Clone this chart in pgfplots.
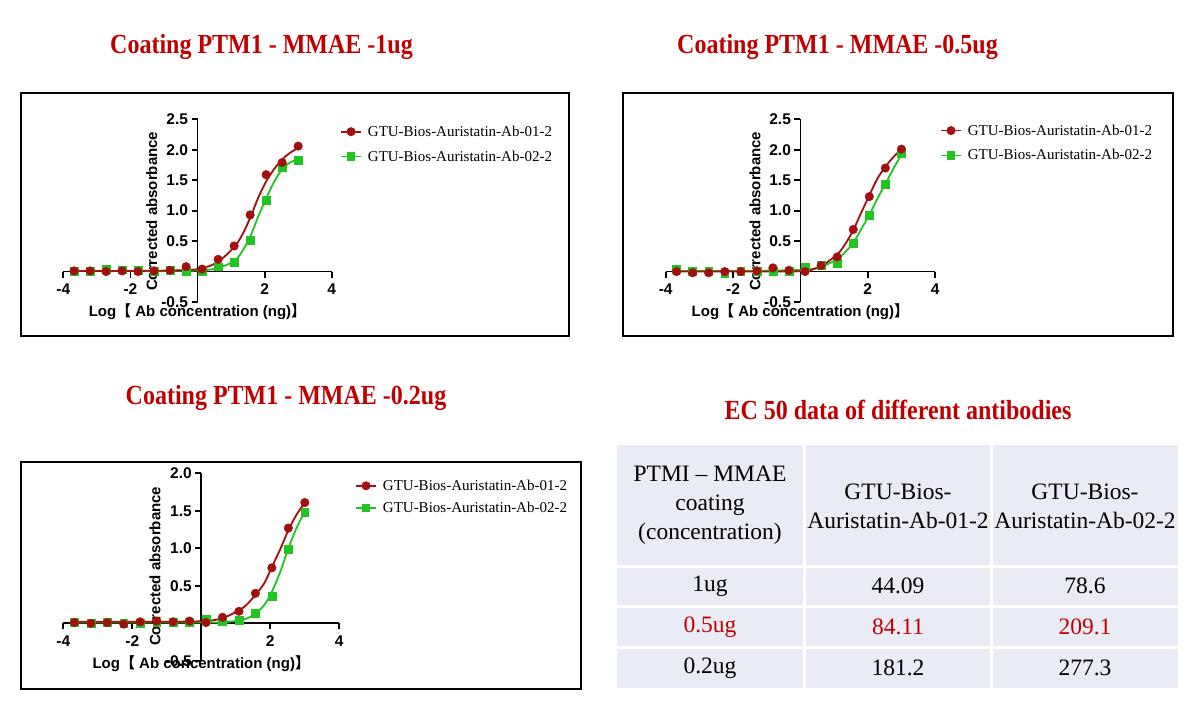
\documentclass[border=0pt]{standalone}
\usepackage{pgfplots}
\pgfplotsset{compat=1.18}
\usepackage{fontspec}
\setmainfont{Liberation Serif}
\newfontfamily\arial{Liberation Sans}
\newfontfamily\cjk{Noto Sans CJK SC}

\definecolor{gpred}{HTML}{A30F0F}
\definecolor{gpgreen}{HTML}{22C422}
\definecolor{titlered}{HTML}{C00000}
\definecolor{cellbg}{HTML}{E9EBF5}

\newcommand{\lblfont}{\arial\bfseries\fontsize{15}{15}\selectfont}
\newcommand{\xlab}{Log{\cjk 【} Ab concentration (ng){\cjk 】}}
\newcommand{\ttl}[1]{\scalebox{1}[1.15]{#1}}

\pgfplotsset{
  gp/.style={
    scale only axis, clip=false,
    axis lines=middle,
    axis line style={-, line width=1.8pt, black},
    xmin=-4, xmax=4,
    xtick={-4,-2,0,2,4}, xticklabels={-4,-2,,2,4},
    tick align=outside, major tick length=6pt,
    tick style={line width=1.8pt, black},
    ticklabel style={font=\arial\bfseries\fontsize{15.5}{15.5}\selectfont},
    xticklabel shift=3pt,
    legend style={draw=none, fill=none, anchor=west,
      font=\fontsize{15}{15}\selectfont, inner sep=0pt,
      nodes={inner sep=0pt}, row sep=13pt, column sep=6pt,
      cells={anchor=west}},
    legend image code/.code={\draw[mark repeat=2, mark phase=2, #1]
      plot coordinates {(0pt,0pt) (10pt,0pt) (20pt,0pt)};},
  },
  redcurve/.style={gpred, line width=1.8pt, smooth, no markers, forget plot},
  greencurve/.style={gpgreen, line width=1.8pt, smooth, no markers, forget plot},
  redpts/.style={only marks, mark=*, mark size=4.3pt, gpred, forget plot},
  greenpts/.style={only marks, mark=square*, mark size=3.9pt, gpgreen, forget plot},
}

\begin{document}
\begin{tikzpicture}
\path[use as bounding box, fill=white] (0pt,0pt) rectangle (1198pt,713pt);

\begin{scope}[x=1pt, y=-1pt, yshift=713pt]
  % frames
  \draw[line width=2pt] (21,93) rectangle (569,336);
  \draw[line width=2pt] (623,93) rectangle (1173,336);
  \draw[line width=2pt] (21,462) rectangle (581,689);
  % titles
  \begin{scope}[every node/.style={text=titlered, font=\bfseries\fontsize{24}{24}\selectfont}]
    \node at (261.5,47) {\ttl{Coating PTM1 - MMAE -1ug}};
    \node at (837.5,47) {\ttl{Coating PTM1 - MMAE -0.5ug}};
    \node at (286,398) {\ttl{Coating PTM1 - MMAE -0.2ug}};
    \node at (898,410) {\ttl{EC 50 data of different antibodies}};
  \end{scope}
  % EC50 table
  \foreach \xa/\xb in {617/803, 806/990, 993/1178}{
    \foreach \ya/\yb in {445/565, 568/605, 608/646, 649/688}{
      \fill[cellbg] (\xa,\ya) rectangle (\xb,\yb);
    }
  }
  \begin{scope}[every node/.style={font=\fontsize{23.5}{29}\selectfont, align=center}]
    \node at (710,505) {PTMI -- MMAE\\coating\\(concentration)};
    \node at (898,506) {GTU-Bios-\\Auristatin-Ab-01-2};
    \node at (1085,506) {GTU-Bios-\\Auristatin-Ab-02-2};
    \node at (710,586) {1ug};
    \node at (898,586) {44.09};
    \node at (1085,586) {78.6};
    \node[text=titlered] at (710,627) {0.5ug};
    \node[text=titlered] at (898,627) {84.11};
    \node[text=titlered] at (1085,627) {209.1};
    \node at (710,668) {0.2ug};
    \node at (898,668) {181.2};
    \node at (1085,668) {277.3};
  \end{scope}
\end{scope}

% ---- Chart 1: coating 1ug
\begin{axis}[gp, at={(63.3pt,411pt)}, anchor=south west,
  width=268.4pt, height=182.7pt, ymin=-0.5, ymax=2.5,
  ytick={-0.5,0,0.5,1,1.5,2,2.5}, yticklabels={-0.5,,0.5,1.0,1.5,2.0,2.5},
  legend style={at={(1.031,0.864)}}]
\addlegendimage{gpred, line width=1.7pt, mark=*, mark size=3.6pt}
\addlegendentry{GTU-Bios-Auristatin-Ab-01-2}
\addlegendimage{gpgreen, line width=1.7pt, mark=square*, mark size=3.3pt}
\addlegendentry{GTU-Bios-Auristatin-Ab-02-2}
\addplot[greencurve] coordinates {(-3.679,0.01) (-2,0.01) (-1,0.01) (0.137,0.02) (0.614,0.06) (1.092,0.17) (1.33,0.33) (1.569,0.57) (1.80,0.89) (2.046,1.20) (2.28,1.47) (2.523,1.68) (2.76,1.79) (3.0,1.85)};
\addplot[greenpts] coordinates {(-3.679,0.01) (-3.202,0.01) (-2.725,0.04) (-2.248,0.03) (-1.771,0.02) (-1.294,0.01) (-0.817,0.02) (-0.340,0.00) (0.137,0.00) (0.614,0.08) (1.092,0.16) (1.569,0.52) (2.046,1.17) (2.523,1.71) (3.000,1.83)};
\addplot[redcurve] coordinates {(-3.679,0.01) (-2,0.01) (-1,0.015) (-0.340,0.025) (0.137,0.05) (0.614,0.16) (1.092,0.40) (1.33,0.60) (1.569,0.88) (1.80,1.20) (2.046,1.48) (2.28,1.68) (2.523,1.84) (2.76,1.95) (3.0,2.03)};
\addplot[redpts] coordinates {(-3.679,0.01) (-3.202,0.01) (-2.725,0.00) (-2.248,0.01) (-1.771,0.00) (-1.294,0.01) (-0.817,0.02) (-0.340,0.08) (0.137,0.04) (0.614,0.20) (1.092,0.42) (1.569,0.93) (2.046,1.59) (2.523,1.79) (3.000,2.06)};
\node[rotate=90, font=\lblfont] at (axis cs:-1.365,0.99) {Corrected absorbance};
\node[font=\lblfont] at (axis cs:0,-0.66) {\xlab};
\end{axis}

% ---- Chart 2: coating 0.5ug
\begin{axis}[gp, at={(665.7pt,411pt)}, anchor=south west,
  width=269.4pt, height=182.7pt, ymin=-0.5, ymax=2.5,
  ytick={-0.5,0,0.5,1,1.5,2,2.5}, yticklabels={-0.5,,0.5,1.0,1.5,2.0,2.5},
  legend style={at={(1.018,0.870)}}]
\addlegendimage{gpred, line width=1.7pt, mark=*, mark size=3.6pt}
\addlegendentry{GTU-Bios-Auristatin-Ab-01-2}
\addlegendimage{gpgreen, line width=1.7pt, mark=square*, mark size=3.3pt}
\addlegendentry{GTU-Bios-Auristatin-Ab-02-2}
\addplot[greencurve] coordinates {(-3.679,0.01) (-2,0.01) (-1,0.015) (0.137,0.03) (0.614,0.08) (1.092,0.20) (1.33,0.32) (1.569,0.47) (1.80,0.69) (2.046,0.93) (2.28,1.19) (2.523,1.44) (2.76,1.69) (3.0,1.92)};
\addplot[greenpts] coordinates {(-3.679,0.04) (-3.202,0.00) (-2.725,0.00) (-2.248,-0.03) (-1.771,0.00) (-1.294,0.01) (-0.817,0.00) (-0.340,0.01) (0.137,0.07) (0.614,0.11) (1.092,0.14) (1.569,0.46) (2.046,0.92) (2.523,1.43) (3.000,1.94)};
\addplot[redcurve] coordinates {(-3.679,0.0) (-2,0.0) (-1,0.0) (0.137,0.01) (0.614,0.09) (1.092,0.28) (1.33,0.45) (1.569,0.68) (1.80,0.96) (2.046,1.25) (2.28,1.52) (2.523,1.72) (2.76,1.88) (3.0,2.01)};
\addplot[redpts] coordinates {(-3.679,0.00) (-3.202,-0.02) (-2.725,-0.02) (-2.248,0.00) (-1.771,0.00) (-1.294,0.01) (-0.817,0.06) (-0.340,0.02) (0.137,0.00) (0.614,0.10) (1.092,0.24) (1.569,0.69) (2.046,1.23) (2.523,1.70) (3.000,2.01)};
\node[rotate=90, font=\lblfont] at (axis cs:-1.345,0.99) {Corrected absorbance};
\node[font=\lblfont] at (axis cs:0,-0.66) {\xlab};
\end{axis}

% ---- Chart 3: coating 0.2ug
\begin{axis}[gp, at={(63.3pt,52.2pt)}, anchor=south west,
  width=276pt, height=187.5pt, ymin=-0.5, ymax=2.0,
  ytick={-0.5,0,0.5,1,1.5,2}, yticklabels={-0.5,,0.5,1.0,1.5,2.0},
  legend style={at={(1.057,0.875)}, row sep=10pt}]
\addlegendimage{gpred, line width=1.7pt, mark=*, mark size=3.6pt}
\addlegendentry{GTU-Bios-Auristatin-Ab-01-2}
\addlegendimage{gpgreen, line width=1.7pt, mark=square*, mark size=3.3pt}
\addlegendentry{GTU-Bios-Auristatin-Ab-02-2}
\addplot[greencurve] coordinates {(-3.679,0.01) (-2,0.01) (-1,0.01) (0.137,0.01) (0.614,0.015) (1.092,0.035) (1.35,0.07) (1.569,0.13) (1.82,0.24) (2.046,0.42) (2.30,0.70) (2.523,1.0) (2.75,1.26) (3.0,1.49)};
\addplot[greenpts] coordinates {(-3.679,0.01) (-3.202,0.00) (-2.725,0.02) (-2.248,0.00) (-1.771,0.00) (-1.294,0.01) (-0.817,0.01) (-0.340,0.01) (0.137,0.05) (0.614,0.03) (1.092,0.04) (1.569,0.13) (2.046,0.36) (2.523,0.99) (3.000,1.48)};
\addplot[redcurve] coordinates {(-3.679,0.02) (-2,0.02) (-1,0.02) (0.137,0.03) (0.614,0.07) (1.092,0.17) (1.34,0.26) (1.569,0.38) (1.82,0.53) (2.046,0.75) (2.30,1.0) (2.523,1.24) (2.75,1.44) (3.0,1.61)};
\addplot[redpts] coordinates {(-3.679,0.01) (-3.202,0.00) (-2.725,0.01) (-2.248,-0.01) (-1.771,0.02) (-1.294,0.03) (-0.817,0.02) (-0.340,0.03) (0.137,0.01) (0.614,0.08) (1.092,0.16) (1.569,0.40) (2.046,0.74) (2.523,1.27) (3.000,1.61)};
\node[rotate=90, font=\lblfont] at (axis cs:-1.34,0.76) {Corrected absorbance};
\node[font=\lblfont] at (axis cs:0,-0.543) {\xlab};
\end{axis}
\end{tikzpicture}
\end{document}
